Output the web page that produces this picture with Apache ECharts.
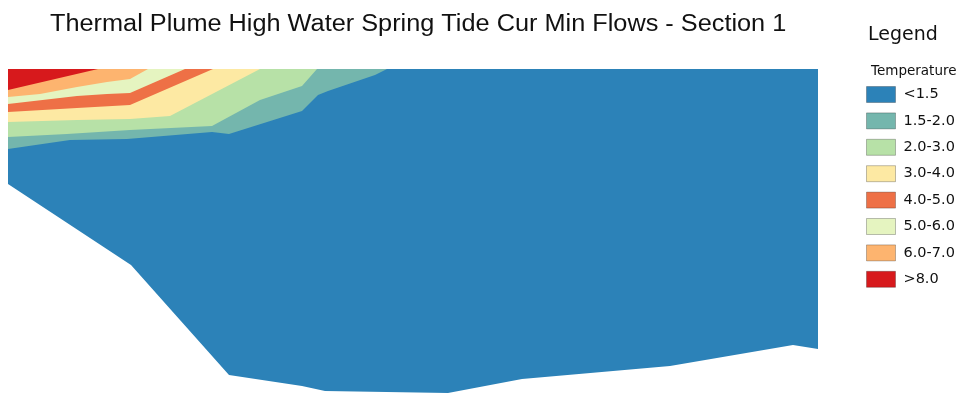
<!DOCTYPE html>
<html>
<head>
<meta charset="utf-8">
<title>Thermal Plume - Section 1</title>
<script src="https://cdn.jsdelivr.net/npm/echarts@6/dist/echarts.min.js"></script>
<style>
  html, body { margin: 0; padding: 0; background: #fff; }
  #chart { width: 967px; height: 394px; }
</style>
</head>
<body>
<div id="chart"></div>
<script>
// Cross-section geometry: [distance along section (m), depth below surface (m)]
const sectionLength = 810;
const sectionBed = [[0, 11.5], [123, 19.6], [221, 30.6], [294, 31.7], [317, 32.2], [440, 32.4], [514, 31.0], [662, 29.7], [785, 27.6], [810, 28.0]];

// Temperature-rise isotherms, from the left bank to where they reach the surface
const isotherm1_5 = [[0, 8.0], [62, 7.1], [119, 7.0], [204, 6.3], [221, 6.5], [294, 4.2], [310, 2.6], [320, 2.2], [367, 0.6], [379, 0]];
const isotherm2_0 = [[0, 6.8], [59, 6.5], [122, 6.1], [204, 5.7], [252, 3.1], [294, 1.7], [309, 0]];
const isotherm3_0 = [[0, 5.3], [69, 5.1], [122, 5.0], [162, 4.7], [252, 0]];
const isotherm4_0 = [[0, 4.3], [69, 3.9], [122, 3.6], [205, 0]];
const isotherm5_0 = [[0, 3.5], [69, 2.7], [99, 2.5], [122, 2.4], [177, 0]];
const isotherm6_0 = [[0, 2.8], [32, 2.5], [69, 1.8], [99, 1.3], [122, 1.0], [140, 0]];
const isotherm7_0 = [[0, 2.1], [90, 0]];

// Legend classes, coolest first
const bandLabels = ['<1.5', '1.5-2.0', '2.0-3.0', '3.0-4.0', '4.0-5.0', '5.0-6.0', '6.0-7.0', '>8.0'];
const bandColors = ['#2c82b8', '#74b6ad', '#b7e1a7', '#fde9a3', '#ee7046', '#e5f4c0', '#fdb46f', '#d7191c'];

const chartTitle = 'Thermal Plume High Water Spring Tide Cur Min Flows - Section 1';

// Whole wetted section, then each warmer zone bounded by the surface and its isotherm
const sectionOutline = [[0, 0], [sectionLength, 0]].concat(sectionBed.slice().reverse());
function surfaceZone(iso) { return [[0, 0]].concat(iso); }
const zonePolygons = [
  sectionOutline,
  surfaceZone(isotherm1_5),
  surfaceZone(isotherm2_0),
  surfaceZone(isotherm3_0),
  surfaceZone(isotherm4_0),
  surfaceZone(isotherm5_0),
  surfaceZone(isotherm6_0),
  surfaceZone(isotherm7_0)
];

const chart = echarts.init(document.getElementById('chart'), null, { renderer: 'canvas' });

const series = zonePolygons.map(function (poly, i) {
  return {
    type: 'custom',
    name: bandLabels[i],
    coordinateSystem: 'cartesian2d',
    itemStyle: { color: bandColors[i] },
    silent: true,
    clip: false,
    data: poly,
    encode: { x: 0, y: 1 },
    renderItem: function (params, api) {
      if (params.dataIndex !== 0) return null;
      return {
        type: 'polygon',
        shape: { points: poly.map(function (p) { return api.coord(p); }) },
        style: { fill: bandColors[i], stroke: null }
      };
    }
  };
});

chart.setOption({
  animation: false,
  backgroundColor: '#ffffff',
  graphic: [
    {
      // wide-set heading across the top of the section
      type: 'text',
      x: 50, y: 13,
      scaleX: 1.1,
      style: {
        text: chartTitle,
        font: '23px "Liberation Sans"',
        fill: '#111',
        textVerticalAlign: 'top'
      }
    }
  ],
  title: [
    {
      text: 'Legend',
      left: 863, top: 21,
      textStyle: { fontFamily: 'DejaVu Sans', fontSize: 19, fontWeight: 'normal', color: '#111' }
    },
    {
      text: 'Temperature',
      left: 866, top: 59,
      textStyle: { fontFamily: 'DejaVu Sans', fontSize: 13.5, fontWeight: 'normal', color: '#111' }
    }
  ],
  legend: {
    orient: 'vertical',
    left: 866, top: 86,
    padding: 0,
    icon: 'rect',
    itemWidth: 29, itemHeight: 16, itemGap: 9.4,
    selectedMode: false,
    itemStyle: { borderColor: 'rgba(0,0,0,0.25)', borderWidth: 1 },
    textStyle: { fontFamily: 'DejaVu Sans', fontSize: 14.5, color: '#111', padding: [0, 0, 0, 3] },
    data: bandLabels
  },
  grid: { left: 8, top: 69, width: sectionLength, height: 325, containLabel: false },
  xAxis: { type: 'value', min: 0, max: sectionLength, show: false },
  yAxis: { type: 'value', min: 0, max: 32.5, inverse: true, show: false },
  series: series
});
</script>
</body>
</html>
